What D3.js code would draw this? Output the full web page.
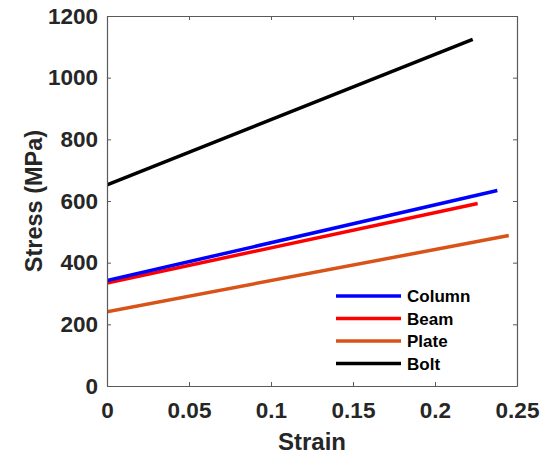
<!DOCTYPE html>
<html>
<head>
<meta charset="utf-8">
<script src="https://cdn.jsdelivr.net/npm/d3@7"></script>
<style>
  html, body { margin: 0; padding: 0; background: #fff; }
  svg { display: block; font-family: "Liberation Sans", Arial, sans-serif; }
</style>
</head>
<body>
<svg id="chart" width="542" height="456"></svg>
<script>
// ---- data ----
const seriesNames = ["Column", "Beam", "Plate", "Bolt"];
const seriesColors = ["#0000ff", "#ff0000", "#d95319", "#000000"];
const strainStart = [0, 0, 0, 0];
const strainEnd = [0.238, 0.226, 0.245, 0.223];
const stressStart = [342, 334, 241, 652];
const stressEnd = [634, 592, 488, 1124];
const xTicks = [0, 0.05, 0.1, 0.15, 0.2, 0.25];
const xTickLabels = ["0", "0.05", "0.1", "0.15", "0.2", "0.25"];
const yTicks = [0, 200, 400, 600, 800, 1000, 1200];

const svg = d3.select("#chart");
const m = { left: 107, right: 517, top: 16, bottom: 386 };

const x = d3.scaleLinear().domain([0, 0.25]).range([m.left, m.right]);
const y = d3.scaleLinear().domain([0, 1200]).range([m.bottom, m.top]);

const axisColor = "#5a5a5a";
const textColor = "#262626";

// lines
const series = seriesNames.map((n, i) => ({
  name: n, color: seriesColors[i],
  pts: [[strainStart[i], stressStart[i]], [strainEnd[i], stressEnd[i]]]
}));
const line = d3.line().x(d => x(d[0])).y(d => y(d[1]));

svg.append("defs").append("clipPath").attr("id", "clip")
  .append("rect").attr("x", m.left).attr("y", m.top)
  .attr("width", m.right - m.left).attr("height", m.bottom - m.top);

const g = svg.append("g").attr("clip-path", "url(#clip)");
series.slice().reverse().forEach(s => {
  g.append("path").attr("d", line(s.pts)).attr("fill", "none")
    .attr("stroke", s.color).attr("stroke-width", 3.5);
});

// axes (ticks inward)
const xAxis = d3.axisBottom(x).tickValues(xTicks).tickFormat((d, i) => xTickLabels[i])
  .tickSizeInner(-4).tickSizeOuter(0).tickPadding(16);
const yAxis = d3.axisLeft(y).tickValues(yTicks).tickFormat(d3.format("d"))
  .tickSizeInner(-4).tickSizeOuter(0).tickPadding(9);

const gx = svg.append("g").attr("transform", `translate(0,${m.bottom})`).call(xAxis);
const gy = svg.append("g").attr("transform", `translate(${m.left},0)`).call(yAxis);
const xTop = d3.axisTop(x).tickValues(xTicks).tickFormat("").tickSizeInner(-4).tickSizeOuter(0);
const yRight = d3.axisRight(y).tickValues(yTicks).tickFormat("").tickSizeInner(-4).tickSizeOuter(0);
const gxt = svg.append("g").attr("transform", `translate(0,${m.top})`).call(xTop);
const gyr = svg.append("g").attr("transform", `translate(${m.right},0)`).call(yRight);

[gx, gy, gxt, gyr].forEach(a => {
  a.selectAll(".domain").attr("stroke", axisColor).attr("stroke-width", 1.2);
  a.selectAll(".tick line").attr("stroke", axisColor);
  a.selectAll(".tick text").attr("fill", textColor).attr("font-size", 22.5)
    .attr("font-weight", "bold").attr("font-family", "Liberation Sans, Arial, sans-serif");
});

// axis labels
svg.append("text").attr("x", (m.left + m.right) / 2).attr("y", 450)
  .attr("text-anchor", "middle").attr("font-size", 24).attr("font-weight", "bold")
  .attr("fill", textColor).text("Strain");
svg.append("text").attr("transform", `translate(42,${(m.top + m.bottom) / 2}) rotate(-90)`)
  .attr("text-anchor", "middle").attr("font-size", 23.5).attr("font-weight", "bold")
  .attr("fill", textColor).text("Stress (MPa)");

// legend
const leg = svg.append("g");
series.forEach((s, i) => {
  const yy = 296 + i * 22.5;
  leg.append("line").attr("x1", 336).attr("x2", 401).attr("y1", yy).attr("y2", yy)
    .attr("stroke", s.color).attr("stroke-width", 3.5);
  leg.append("text").attr("x", 407).attr("y", yy).attr("dy", "0.36em")
    .attr("font-size", 17).attr("font-weight", "bold").attr("fill", "#000").text(s.name);
});
</script>
</body>
</html>
